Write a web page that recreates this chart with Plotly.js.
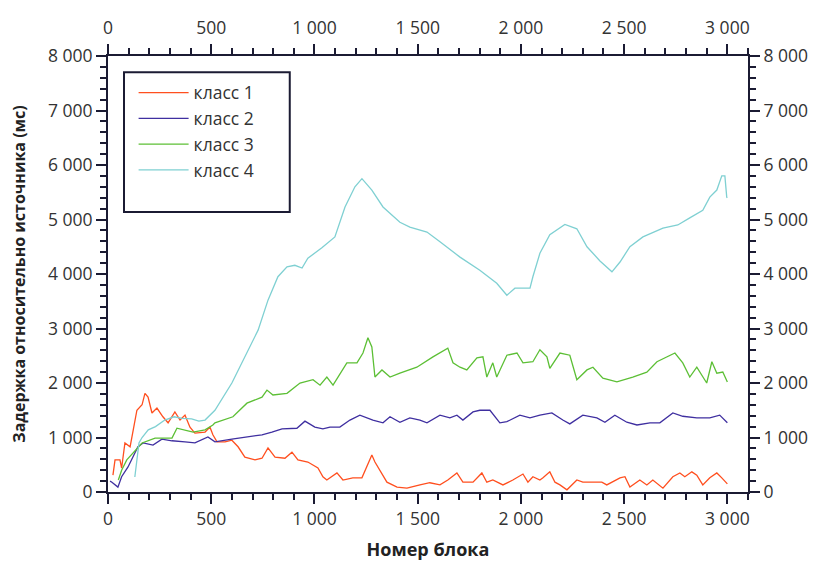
<!DOCTYPE html>
<html>
<head>
<meta charset="utf-8">
<script src="https://cdn.plot.ly/plotly-3.0.1.min.js"></script>
<style>html,body{margin:0;padding:0;background:#fff;}#chart{width:819px;height:565px;}</style>
</head>
<body>
<div id="chart"></div>
<script>
// --- Data ---
var seriesNames = ["класс 1", "класс 2", "класс 3", "класс 4"];
var seriesColors = ["#ff4f1f", "#3f2fa0", "#5cbf35", "#7fd0d2"];

var x1 = [24,34,58,66,82,107,116,140,165,179,194,213,237,266,291,324,349,373,397,421,470,494,508,528,567,600,630,663,712,746,775,809,857,891,920,968,1017,1041,1060,1109,1138,1186,1230,1254,1278,1293,1351,1400,1448,1511,1559,1608,1646,1690,1719,1768,1811,1835,1864,1913,1961,2010,2034,2058,2092,2107,2140,2165,2189,2223,2271,2300,2392,2416,2480,2504,2528,2576,2610,2639,2688,2736,2770,2794,2828,2852,2881,2915,2949,2973,3000];
var y1 = [310,590,590,440,900,830,1010,1500,1600,1810,1740,1450,1540,1380,1270,1470,1320,1410,1190,1080,1100,1190,1050,920,920,950,830,640,590,620,810,640,620,730,590,550,440,280,220,350,220,260,260,460,680,550,180,90,70,130,170,130,220,350,180,180,350,180,220,130,220,330,180,280,220,260,370,180,130,40,220,180,180,130,260,280,90,220,130,220,70,280,350,280,370,310,130,260,350,260,150];

var x2 = [10,19,48,66,97,145,170,218,261,310,373,421,484,518,600,663,746,794,843,915,954,1002,1041,1075,1123,1172,1220,1283,1332,1366,1414,1462,1511,1545,1608,1656,1690,1719,1768,1801,1850,1898,1932,1995,2044,2092,2150,2203,2237,2300,2368,2407,2455,2513,2562,2625,2673,2736,2784,2852,2915,2963,3000];
var y2 = [200,180,90,280,460,830,900,860,970,940,920,900,1010,920,970,1010,1050,1100,1160,1170,1300,1190,1160,1190,1190,1320,1410,1320,1270,1380,1280,1360,1320,1270,1410,1360,1410,1320,1470,1500,1500,1270,1290,1410,1360,1410,1450,1320,1250,1410,1360,1280,1410,1280,1230,1270,1270,1450,1390,1360,1360,1410,1270];

var x3 = [50,66,91,165,228,310,334,373,412,470,508,518,605,673,746,770,799,867,930,993,1027,1060,1090,1157,1206,1235,1259,1278,1293,1327,1366,1414,1496,1574,1646,1671,1705,1738,1787,1816,1835,1864,1883,1932,1981,2010,2058,2092,2126,2140,2189,2237,2271,2320,2349,2397,2465,2542,2610,2659,2707,2746,2784,2818,2852,2900,2925,2949,2978,3000];
var y3 = [220,400,590,900,990,990,1170,1140,1100,1140,1230,1270,1380,1630,1740,1870,1780,1810,2000,2060,1960,2110,1960,2370,2370,2550,2830,2660,2110,2240,2110,2180,2290,2480,2640,2370,2290,2240,2460,2480,2110,2370,2110,2510,2550,2370,2390,2610,2480,2270,2550,2510,2060,2240,2290,2090,2020,2110,2200,2390,2480,2550,2370,2110,2290,2000,2390,2180,2200,2020];

var x4 = [130,150,165,195,230,275,320,360,405,440,470,518,600,663,727,775,823,867,905,940,968,1036,1099,1148,1196,1230,1278,1332,1414,1462,1545,1608,1705,1801,1883,1932,1971,2044,2058,2092,2140,2213,2271,2320,2383,2441,2480,2528,2591,2688,2760,2818,2881,2915,2949,2973,2988,2997,3000];
var y4 = [275,900,1000,1140,1200,1320,1380,1350,1340,1300,1320,1500,2000,2480,2970,3520,3950,4130,4160,4110,4290,4480,4680,5230,5600,5750,5540,5230,4950,4860,4770,4590,4310,4070,3830,3610,3740,3740,3950,4380,4720,4910,4830,4500,4240,4040,4220,4500,4680,4840,4900,5030,5170,5410,5540,5800,5800,5410,5400];

var xTickVals = [0,500,1000,1500,2000,2500,3000];
var yTickVals = [0,1000,2000,3000,4000,5000,6000,7000,8000];

var xs = [x1,x2,x3,x4], ys = [y1,y2,y3,y4];
var traces = [];
for (var i = 0; i < 4; i++) {
  traces.push({
    x: xs[i], y: ys[i], type: 'scatter', mode: 'lines',
    name: seriesNames[i], legendgroup: 'g' + i,
    line: {color: seriesColors[i], width: 1.3}
  });
}
// empty trace to activate the mirrored top/right axes
traces.push({x: [], y: [], xaxis: 'x2', yaxis: 'y2', showlegend: false, hoverinfo: 'skip'});

var axisColor = '#1b1b33';
var fontFam = '"Open Sans", "Noto Sans", sans-serif';
var tickFont = {family: fontFam, size: 17.5, color: '#333'};
function xAx(extra) {
  var a = {
    range: [0, 3100], tickvals: xTickVals, ticks: 'outside', ticklen: 10, tickwidth: 2,
    tickcolor: axisColor, showline: true, linecolor: axisColor, linewidth: 2,
    showgrid: false, zeroline: false, separatethousands: true,
    tickfont: tickFont,
    minor: {dtick: 100, tick0: 0, ticks: 'outside', ticklen: 6, tickwidth: 2, tickcolor: axisColor, showgrid: false}
  };
  for (var k in extra) a[k] = extra[k];
  return a;
}
function yAx(extra) {
  var a = {
    range: [0, 8000], tickvals: yTickVals, ticks: 'outside', ticklen: 10, tickwidth: 2,
    tickcolor: axisColor, showline: true, linecolor: axisColor, linewidth: 2,
    showgrid: false, zeroline: false, separatethousands: true,
    tickfont: tickFont,
    minor: {dtick: 200, tick0: 0, ticks: 'outside', ticklen: 6, tickwidth: 2, tickcolor: axisColor, showgrid: false}
  };
  for (var k in extra) a[k] = extra[k];
  return a;
}

var layout = {
  width: 819, height: 565,
  margin: {l: 108, r: 71, t: 56, b: 73},
  paper_bgcolor: '#fff', plot_bgcolor: '#fff',
  separators: '. ',
  font: {family: fontFam, color: '#333'},
  showlegend: true,
  legend: {
    x: 0.04, y: 0.957, xanchor: 'left', yanchor: 'top',
    bgcolor: 'rgba(0,0,0,0)', borderwidth: 0, itemwidth: 50,
    font: {family: fontFam, size: 17.5, color: '#333'},
    traceorder: 'grouped', tracegroupgap: 0
  },
  xaxis: xAx({title: {text: 'Номер блока', font: {family: fontFam, size: 18, color: '#222', weight: 'bold'}, standoff: 14}}),
  yaxis: yAx({title: {text: 'Задержка относительно источника (мс)', font: {family: fontFam, size: 16, color: '#222', weight: 'bold'}, standoff: 18}}),
  xaxis2: xAx({overlaying: 'x', side: 'top', anchor: 'y2', ticklabelstandoff: 3}),
  yaxis2: yAx({overlaying: 'y', side: 'right', anchor: 'x2'}),
  shapes: [{
    type: 'rect', xref: 'paper', yref: 'paper',
    x0: 0.025, x1: 0.284, y0: 0.642, y1: 0.963,
    line: {color: axisColor, width: 2}, fillcolor: 'rgba(0,0,0,0)'
  }]
};

Plotly.newPlot('chart', traces, layout, {displayModeBar: false, staticPlot: true});
</script>
</body>
</html>
